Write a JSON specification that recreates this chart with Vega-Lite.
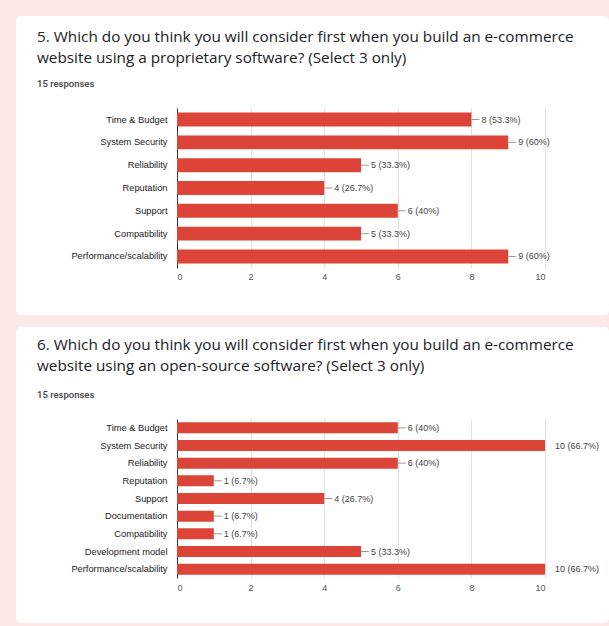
{
  "$schema": "https://vega.github.io/schema/vega-lite/v6.json",
  "background": "#fce8e7",
  "padding": {"left": 16, "top": 16, "right": 0, "bottom": 3},
  "spacing": 12,
  "datasets": {
    "q5": [
      {"option": "Time & Budget", "count": 8, "label": "8 (53.3%)"},
      {"option": "System Security", "count": 9, "label": "9 (60%)"},
      {"option": "Reliability", "count": 5, "label": "5 (33.3%)"},
      {"option": "Reputation", "count": 4, "label": "4 (26.7%)"},
      {"option": "Support", "count": 6, "label": "6 (40%)"},
      {"option": "Compatibility", "count": 5, "label": "5 (33.3%)"},
      {"option": "Performance/scalability", "count": 9, "label": "9 (60%)"}
    ],
    "q6": [
      {"option": "Time & Budget", "count": 6, "label": "6 (40%)"},
      {"option": "System Security", "count": 10, "label": "10 (66.7%)"},
      {"option": "Reliability", "count": 6, "label": "6 (40%)"},
      {"option": "Reputation", "count": 1, "label": "1 (6.7%)"},
      {"option": "Support", "count": 4, "label": "4 (26.7%)"},
      {"option": "Documentation", "count": 1, "label": "1 (6.7%)"},
      {"option": "Compatibility", "count": 1, "label": "1 (6.7%)"},
      {"option": "Development model", "count": 5, "label": "5 (33.3%)"},
      {"option": "Performance/scalability", "count": 10, "label": "10 (66.7%)"}
    ]
  },
  "vconcat": [
    {
      "width": 593,
      "height": 299,
      "data": {"name": "q5"},
      "title": {
        "text": ["5. Which do you think you will consider first when you build an e-commerce", "website using a proprietary software? (Select 3 only)"],
        "subtitle": "15 responses",
        "subtitlePadding": 12
      },
      "encoding": {
        "y": {"field": "option", "type": "nominal", "sort": null,
              "scale": {"range": [92, 252], "paddingInner": 0.39, "paddingOuter": 0.2},
              "axis": {"offset": -161}},
        "x": {"field": "count", "type": "quantitative",
              "scale": {"domain": [0, 10], "range": [161, 529], "nice": false},
              "axis": {"offset": -47, "values": [0, 2, 4, 6, 8, 10], "format": "d", "tickSize": -160, "labelPadding": 164}}
      },
      "layer": [
        {"mark": {"type": "bar", "color": "#db4437"}},
        {"transform": [{"filter": "datum.count < 10"}],
         "mark": {"type": "rule", "color": "#999999", "strokeWidth": 1, "x2Offset": 8},
         "encoding": {"x2": {"field": "count"}}},
        {"mark": {"type": "text", "align": "left", "baseline": "middle", "dx": 10, "font": "Liberation Sans", "fontSize": 9, "color": "#444444"},
         "encoding": {"text": {"field": "label"}}}
      ]
    },
    {
      "width": 593,
      "height": 296,
      "data": {"name": "q6"},
      "title": {
        "text": ["6. Which do you think you will consider first when you build an e-commerce", "website using an open-source software? (Select 3 only)"],
        "subtitle": "15 responses",
        "subtitlePadding": 15
      },
      "encoding": {
        "y": {"field": "option", "type": "nominal", "sort": null,
              "scale": {"range": [92, 251], "paddingInner": 0.38, "paddingOuter": 0.19},
              "axis": {"offset": -161}},
        "x": {"field": "count", "type": "quantitative",
              "scale": {"domain": [0, 10], "range": [161, 529], "nice": false},
              "axis": {"offset": -45, "values": [0, 2, 4, 6, 8, 10], "format": "d", "tickSize": -159, "labelPadding": 164}}
      },
      "layer": [
        {"mark": {"type": "bar", "color": "#db4437"}},
        {"transform": [{"filter": "datum.count < 10"}],
         "mark": {"type": "rule", "color": "#999999", "strokeWidth": 1, "x2Offset": 8},
         "encoding": {"x2": {"field": "count"}}},
        {"mark": {"type": "text", "align": "left", "baseline": "middle", "dx": 10, "font": "Liberation Sans", "fontSize": 9, "color": "#444444"},
         "encoding": {"text": {"field": "label"}}}
      ]
    }
  ],
  "config": {
    "view": {"fill": "white", "stroke": null, "cornerRadius": 5},
    "title": {
      "anchor": "start", "frame": "group", "orient": "top", "offset": -72, "dx": 21,
      "font": "Open Sans", "fontSize": 15.3, "fontWeight": "normal", "color": "#202124", "lineHeight": 21,
      "subtitleFont": "Roboto", "subtitleFontSize": 9.5, "subtitleFontWeight": 500, "subtitleColor": "#444444"
    },
    "axisY": {
      "title": null, "ticks": false, "grid": false, "domainColor": "#333333", "domainWidth": 1,
      "labelPadding": 10, "labelFont": "Liberation Sans", "labelFontSize": 9.3, "labelColor": "#222222"
    },
    "axisX": {
      "title": null, "domain": false, "ticks": true, "grid": false, "tickColor": "#e0e0e0", "labelOverlap": false,
      "labelFont": "Liberation Sans", "labelFontSize": 9, "labelColor": "#555555"
    }
  }
}
